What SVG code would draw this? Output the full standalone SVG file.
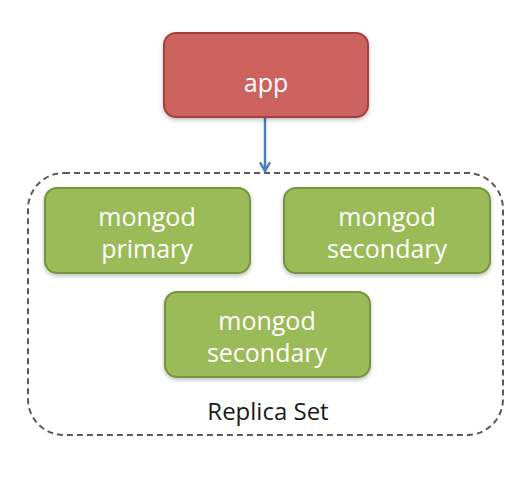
<svg xmlns="http://www.w3.org/2000/svg" width="526" height="480" viewBox="0 0 526 480">
<defs>
<style>
.red{fill:#cd635e;stroke:#a3403b;stroke-width:2}
.green{fill:#9bbb59;stroke:#77933c;stroke-width:2}
.wt{fill:#ffffff;font-family:"Open Sans","Liberation Sans",sans-serif;font-size:25px;text-anchor:middle}
.bt{fill:#1a1a1a;font-family:"Open Sans","Liberation Sans",sans-serif;font-size:24px;text-anchor:middle}
.set{fill:none;stroke:#5a5a5a;stroke-width:2;stroke-dasharray:6,4}
.conn{stroke:#4a7ebb;stroke-width:2.5;fill:none}
</style>
<filter id="sh" x="-10%" y="-10%" width="120%" height="130%">
<feDropShadow dx="0" dy="2" stdDeviation="2" flood-color="#000" flood-opacity="0.25"/>
</filter>
<marker id="arr" viewBox="0 0 10 10" refX="8" refY="5" markerWidth="5" markerHeight="5" orient="auto" markerUnits="strokeWidth">
<path d="M1,1 L8,5 L1,9" fill="none" stroke="#4a7ebb" stroke-width="2"/>
</marker>
</defs>
<rect width="526" height="480" fill="#ffffff"/>
<g id="replica-set">
<rect class="set" x="28" y="173" width="475" height="262" rx="36" ry="36"/>
<text class="bt" x="268" y="420">Replica Set</text>
</g>
<g id="connectors">
<line class="conn" x1="265" y1="117" x2="265" y2="171" marker-end="url(#arr)"/>
</g>
<g id="app">
<rect class="red" x="164" y="33" width="204" height="84" rx="12" ry="12" filter="url(#sh)"/>
<text class="wt" x="266" y="92" font-size="26">app</text>
</g>
<g id="primary">
<rect class="green" x="45" y="188" width="205" height="85" rx="12" ry="12" filter="url(#sh)"/>
<text class="wt" x="147" y="226">mongod</text>
<text class="wt" x="147" y="258">primary</text>
</g>
<g id="secondary1">
<rect class="green" x="284" y="188" width="206" height="85" rx="12" ry="12" filter="url(#sh)"/>
<text class="wt" x="387" y="226">mongod</text>
<text class="wt" x="387" y="258">secondary</text>
</g>
<g id="secondary2">
<rect class="green" x="165" y="292" width="205" height="85" rx="12" ry="12" filter="url(#sh)"/>
<text class="wt" x="267" y="330">mongod</text>
<text class="wt" x="267" y="362">secondary</text>
</g>
</svg>
